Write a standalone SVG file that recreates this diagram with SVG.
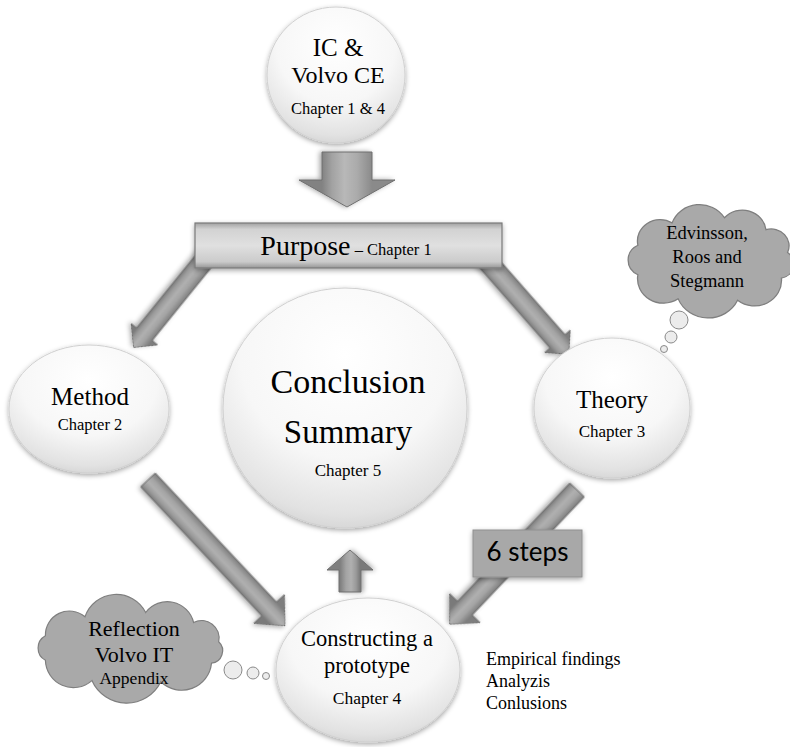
<svg xmlns="http://www.w3.org/2000/svg" width="790" height="747" viewBox="0 0 790 747">
  <defs>
    <radialGradient id="bubbleFill" cx="50%" cy="28%" r="78%">
      <stop offset="0" stop-color="#ffffff"/>
      <stop offset="0.55" stop-color="#f7f7f7"/>
      <stop offset="0.85" stop-color="#e2e2e2"/>
      <stop offset="1" stop-color="#cdcdcd"/>
    </radialGradient>
    <linearGradient id="barFill" x1="0" y1="0" x2="0" y2="1">
      <stop offset="0" stop-color="#a2a2a2"/>
      <stop offset="0.14" stop-color="#d2d2d2"/>
      <stop offset="0.5" stop-color="#e0e0e0"/>
      <stop offset="0.86" stop-color="#cbcbcb"/>
      <stop offset="1" stop-color="#969696"/>
    </linearGradient>
    <!-- shading across the shaft, in each arrow's own frame -->
    <linearGradient id="shaftS" gradientUnits="userSpaceOnUse" x1="0" y1="-10" x2="0" y2="10">
      <stop offset="0" stop-color="#7e7e7e"/>
      <stop offset="0.3" stop-color="#a3a3a3"/>
      <stop offset="0.55" stop-color="#b0b0b0"/>
      <stop offset="0.8" stop-color="#9a9a9a"/>
      <stop offset="1" stop-color="#7a7a7a"/>
    </linearGradient>
    <linearGradient id="shaftL" gradientUnits="userSpaceOnUse" x1="0" y1="-25" x2="0" y2="25">
      <stop offset="0" stop-color="#8a8a8a"/>
      <stop offset="0.3" stop-color="#ababab"/>
      <stop offset="0.55" stop-color="#b8b8b8"/>
      <stop offset="0.8" stop-color="#a2a2a2"/>
      <stop offset="1" stop-color="#828282"/>
    </linearGradient>
    <filter id="shadow" x="-20%" y="-20%" width="140%" height="140%">
      <feDropShadow dx="0" dy="2" stdDeviation="2.5" flood-color="#000" flood-opacity="0.35"/>
    </filter>
  </defs>
  <style>
    .bubble { fill: url(#bubbleFill); stroke: #d0d0d0; stroke-width: 1; filter: url(#shadow); }
    .arrow { stroke: #6f6f6f; stroke-width: 1; stroke-linejoin: miter; filter: url(#shadow); }
    .s { fill: url(#shaftS); }
    .l { fill: url(#shaftL); }
    .cloud { fill: #a9a9a9; stroke: #7f7f7f; stroke-width: 1.2; }
    .dot { fill: #ececec; stroke: #8a8a8a; stroke-width: 1; }
  </style>

  <rect width="790" height="747" fill="#ffffff"/>

  <g id="connectors">
    <!-- IC & Volvo CE down to Purpose -->
    <path class="arrow l" transform="translate(347,152) rotate(90)" d="M0,-25 L28,-25 L28,-48 L55,0 L28,48 L28,25 L0,25 Z"/>
    <!-- Purpose to Method -->
    <path class="arrow s" transform="translate(208.5,255) rotate(129)" d="M0,-10 L102,-10 L102,-17 L119,0 L102,17 L102,10 L0,10 Z"/>
    <!-- Purpose to Theory -->
    <path class="arrow s" transform="translate(481.6,255) rotate(48.7)" d="M0,-10 L115,-10 L115,-17 L132,0 L115,17 L115,10 L0,10 Z"/>
    <!-- Method to Constructing a prototype -->
    <path class="arrow s" transform="translate(148,480) rotate(46.8)" d="M0,-10 L177,-10 L177,-21 L200,0 L177,21 L177,10 L0,10 Z"/>
    <!-- Theory to Constructing a prototype -->
    <path class="arrow s" transform="translate(577,490) rotate(133.5)" d="M0,-10 L163,-10 L163,-21 L185,0 L163,21 L163,10 L0,10 Z"/>
    <!-- Constructing a prototype up to Conclusion -->
    <path class="arrow s" transform="translate(350,592) rotate(-90)" d="M0,-11 L22,-11 L22,-23 L42,0 L22,23 L22,11 L0,11 Z"/>
  </g>

  <g font-family="'Liberation Serif', 'Times New Roman', serif" fill="#000000">
    <g id="node-ic-volvo" text-anchor="middle">
      <ellipse class="bubble" cx="336" cy="75" rx="69" ry="68"/>
      <text x="338" y="56" font-size="25">IC &amp;</text>
      <text x="338" y="83" font-size="24">Volvo CE</text>
      <text x="338" y="114" font-size="16.5">Chapter 1 &amp; 4</text>
    </g>

    <g id="node-purpose">
      <rect x="195" y="223" width="307" height="45" fill="url(#barFill)" stroke="#7a7a7a" stroke-width="1.2" filter="url(#shadow)"/>
      <text x="346" y="255" text-anchor="middle"><tspan font-size="28">Purpose</tspan><tspan font-size="16.5"> – Chapter 1</tspan></text>
    </g>

    <g id="node-method" text-anchor="middle">
      <ellipse class="bubble" cx="89" cy="409" rx="80" ry="64"/>
      <text x="90" y="405" font-size="25">Method</text>
      <text x="90" y="430" font-size="16.5">Chapter 2</text>
    </g>

    <g id="node-theory" text-anchor="middle">
      <ellipse class="bubble" cx="612" cy="408" rx="78" ry="70"/>
      <text x="612" y="408" font-size="25">Theory</text>
      <text x="612" y="437" font-size="17">Chapter 3</text>
    </g>

    <g id="node-conclusion" text-anchor="middle">
      <ellipse class="bubble" cx="345" cy="408" rx="122" ry="120"/>
      <text x="348" y="393" font-size="34">Conclusion</text>
      <text x="348" y="443" font-size="33">Summary</text>
      <text x="348" y="476" font-size="17">Chapter 5</text>
    </g>

    <g id="node-constructing" text-anchor="middle">
      <ellipse class="bubble" cx="368" cy="670" rx="92" ry="72"/>
      <text x="367" y="646" font-size="22.5">Constructing a</text>
      <text x="367" y="673" font-size="22.5">prototype</text>
      <text x="367" y="704" font-size="17.5">Chapter 4</text>
    </g>

    <g id="node-six-steps">
      <rect x="473" y="530" width="109" height="47" fill="#a8a8a8" stroke="#909090" stroke-width="1" filter="url(#shadow)"/>
      <text x="527.5" y="561" font-family="Lato, 'Open Sans', sans-serif" font-size="26" text-anchor="middle">6 steps</text>
    </g>

    <g id="node-authors" text-anchor="middle">
      <path class="cloud" transform="translate(711,260) scale(1.08,1.02) translate(-708,-259)" d="M640.3,273.4 A16,16 0 0 1 640.3,244.6 A21,21 0 0 1 672,222.6 A27,27 0 0 1 720.5,217.6 A22,22 0 0 1 758.9,229.3 A16.5,16.5 0 0 1 778.9,251.7 A14,14 0 0 1 773.2,276.8 A25,25 0 0 1 732.6,298.5 A30,30 0 0 1 677.6,297.1 A24,24 0 0 1 640.3,273.4 Z"/>
      <circle class="dot" cx="679" cy="320" r="9"/>
      <circle class="dot" cx="671" cy="337" r="6"/>
      <circle class="dot" cx="664" cy="349" r="3.5"/>
      <text x="707" y="239" font-size="18.5">Edvinsson,</text>
      <text x="707" y="263" font-size="18.5">Roos and</text>
      <text x="707" y="287" font-size="18.5">Stegmann</text>
    </g>

    <g id="node-reflection" text-anchor="middle">
      <path class="cloud" d="M45.4,660.3 A14,14 0 0 1 45.4,635.7 A24,24 0 0 1 85,616.8 A33,33 0 0 1 145.7,612.5 A27,27 0 0 1 193.6,622.5 A17.5,17.5 0 0 1 218.7,641.7 A12.5,12.5 0 0 1 211.5,663.2 A30,30 0 0 1 160.8,681.8 A38,38 0 0 1 91.9,680.6 A28,28 0 0 1 45.4,660.3 Z"/>
      <circle class="dot" cx="233" cy="670" r="9"/>
      <circle class="dot" cx="253" cy="673" r="6"/>
      <circle class="dot" cx="266" cy="676" r="3.5"/>
      <text x="134" y="636" font-size="22">Reflection</text>
      <text x="134" y="662" font-size="22">Volvo IT</text>
      <text x="134" y="684" font-size="17.5">Appendix</text>
    </g>

    <g id="note-empirical" font-size="18">
      <text x="486" y="665">Empirical findings</text>
      <text x="486" y="687">Analyzis</text>
      <text x="486" y="709">Conlusions</text>
    </g>
  </g>
</svg>
